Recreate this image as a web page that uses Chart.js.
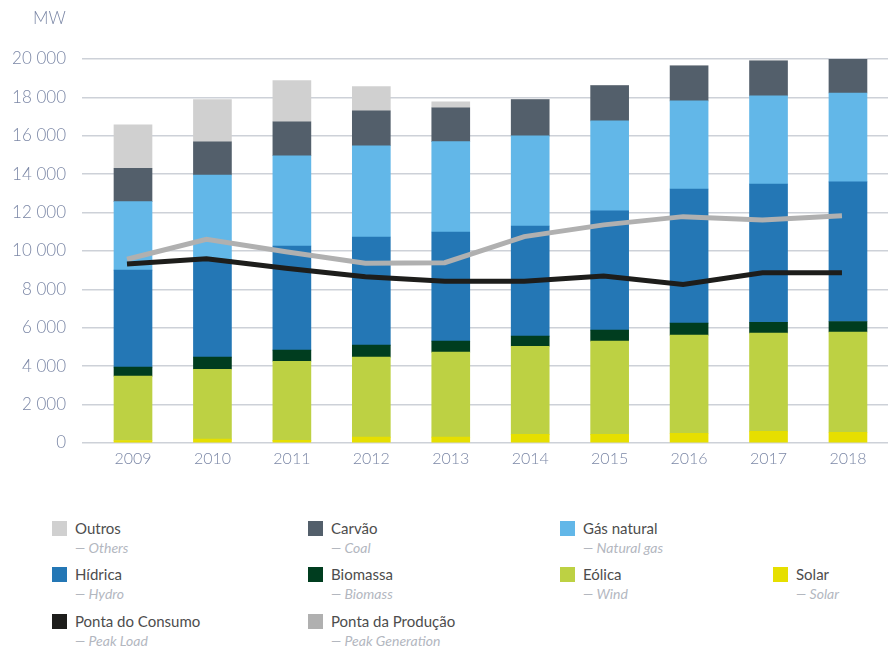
<!DOCTYPE html>
<html>
<head>
<meta charset="utf-8">
<script src="https://cdn.jsdelivr.net/npm/chart.js@4"></script>
<style>
  body { margin: 0; background: #fff; font-family: Lato, "Open Sans", sans-serif; }
  #wrap { position: relative; width: 888px; height: 646px; overflow: hidden; }
  #unit { position: absolute; left: 33px; top: 7px; font-size: 17px; font-weight: 300; color: #7b87a6; }
  #chartBox { position: absolute; left: 0; top: 0; width: 888px; height: 500px; }
  .lg { position: absolute; }
  .lg .sw { position: absolute; left: 0; top: 0; width: 15px; height: 15px; }
  .lg .nm { position: absolute; left: 23px; top: -2px; font-size: 15px; color: #4d4d4d; white-space: nowrap; }
  .lg .sub { position: absolute; left: 23px; top: 18px; font-size: 14px; font-style: italic; color: #b3b7bf; white-space: nowrap; }
</style>
</head>
<body>
<div id="wrap">
  <div id="chartBox"><canvas id="mixChart" width="888" height="500"></canvas></div>
  <div id="unit">MW</div>
  <div id="legend"></div>
</div>
<script>
// data (MW)
const years = [2009, 2010, 2011, 2012, 2013, 2014, 2015, 2016, 2017, 2018];
const solar    = [130, 200, 140, 310, 310, 450, 450, 510, 610, 560];
const wind     = [3350, 3640, 4120, 4160, 4420, 4590, 4860, 5110, 5110, 5220];
const biomass  = [470, 630, 580, 630, 580, 530, 570, 620, 570, 550];
const hydro    = [5050, 5080, 5420, 5630, 5680, 5730, 6210, 6990, 7200, 7270];
const gas      = [3570, 4410, 4700, 4750, 4710, 4700, 4690, 4590, 4590, 4630];
const coal     = [1740, 1730, 1770, 1820, 1760, 1880, 1830, 1830, 1830, 1770];
const others   = [2260, 2190, 2140, 1270, 310, 0, 0, 0, 0, 0];
const peakLoad = [9320, 9600, 9100, 8660, 8430, 8430, 8700, 8260, 8870, 8870];
const peakGen  = [9570, 10610, 9960, 9360, 9390, 10750, 11360, 11790, 11620, 11840];
const yTicks = [0, 2000, 4000, 6000, 8000, 10000, 12000, 14000, 16000, 18000, 20000];

const tickColor = '#7b87a6';
const fmt = v => String(v).replace(/\B(?=(\d{3})+(?!\d))/g, ' ');
const pts = arr => arr.map((v, i) => ({ x: years[i], y: v }));

const barSeries = [
  { label: 'Solar', data: solar, color: '#e6df00' },
  { label: 'Eólica', data: wind, color: '#bdd143' },
  { label: 'Biomassa', data: biomass, color: '#003d1f' },
  { label: 'Hídrica', data: hydro, color: '#2477b5' },
  { label: 'Gás natural', data: gas, color: '#62b7e8' },
  { label: 'Carvão', data: coal, color: '#535f6b' },
  { label: 'Outros', data: others, color: '#d0d0d0' }
];

const datasets = [
  { type: 'line', label: 'Ponta do Consumo', data: pts(peakLoad), borderColor: '#1d1d1b', borderWidth: 5, pointRadius: 0, tension: 0, stack: 'load', order: 0 },
  { type: 'line', label: 'Ponta da Produção', data: pts(peakGen), borderColor: '#b0b0b0', borderWidth: 5, pointRadius: 0, tension: 0, stack: 'gen', order: 0 }
];
barSeries.forEach(s => {
  datasets.push({ type: 'bar', label: s.label, data: pts(s.data), backgroundColor: s.color, barThickness: 38, borderWidth: 0, order: 1 });
});

// the peak lines sit a few px left of the bar centres in the original
const shiftLines = {
  id: 'shiftLines',
  beforeDatasetDraw(chart, args) {
    if (args.meta.type === 'line') { chart.ctx.save(); chart.ctx.translate(-6, 0); }
  },
  afterDatasetDraw(chart, args) {
    if (args.meta.type === 'line') chart.ctx.restore();
  }
};

new Chart(document.getElementById('mixChart').getContext('2d'), {
  data: { datasets: datasets },
  plugins: [shiftLines],
  options: {
    responsive: false,
    animation: false,
    layout: { padding: { top: 59, bottom: 17, left: 0, right: 0 } },
    plugins: { legend: { display: false }, tooltip: { enabled: false } },
    scales: {
      x: {
        type: 'linear',
        min: 2008.358,
        max: 2018.504,
        offset: false,
        stacked: true,
        grid: { display: false, drawTicks: false },
        border: { display: false },
        afterBuildTicks: s => { s.ticks = years.map(v => ({ value: v })); },
        afterFit: s => { s.height = 40; },
        ticks: { callback: v => String(v), color: tickColor, padding: 6, font: { family: 'Lato', size: 16, weight: '300' } }
      },
      y: {
        stacked: true,
        min: 0,
        max: 20000,
        afterBuildTicks: s => { s.ticks = yTicks.map(v => ({ value: v })); },
        afterFit: s => { s.width = 82; },
        grid: { color: '#cdd1d8', lineWidth: 1.5, drawTicks: false },
        border: { display: false },
        ticks: { callback: v => fmt(v), color: tickColor, padding: 16, font: { family: 'Lato', size: 17, weight: '300' } }
      }
    }
  }
});

// legend
const legendItems = [
  { name: 'Outros', sub: 'Others', color: '#d0d0d0', x: 52, y: 521 },
  { name: 'Carvão', sub: 'Coal', color: '#535f6b', x: 308, y: 521 },
  { name: 'Gás natural', sub: 'Natural gas', color: '#62b7e8', x: 560, y: 521 },
  { name: 'Hídrica', sub: 'Hydro', color: '#2477b5', x: 52, y: 567 },
  { name: 'Biomassa', sub: 'Biomass', color: '#003d1f', x: 308, y: 567 },
  { name: 'Eólica', sub: 'Wind', color: '#bdd143', x: 560, y: 567 },
  { name: 'Solar', sub: 'Solar', color: '#e6df00', x: 773, y: 567 },
  { name: 'Ponta do Consumo', sub: 'Peak Load', color: '#1d1d1b', x: 52, y: 614 },
  { name: 'Ponta da Produção', sub: 'Peak Generation', color: '#b0b0b0', x: 308, y: 614 }
];
const legend = document.getElementById('legend');
legendItems.forEach(it => {
  const d = document.createElement('div');
  d.className = 'lg';
  d.style.left = it.x + 'px';
  d.style.top = it.y + 'px';
  d.innerHTML = `<span class="sw" style="background:${it.color}"></span><span class="nm">${it.name}</span><span class="sub">— ${it.sub}</span>`;
  legend.appendChild(d);
});
</script>
</body>
</html>
